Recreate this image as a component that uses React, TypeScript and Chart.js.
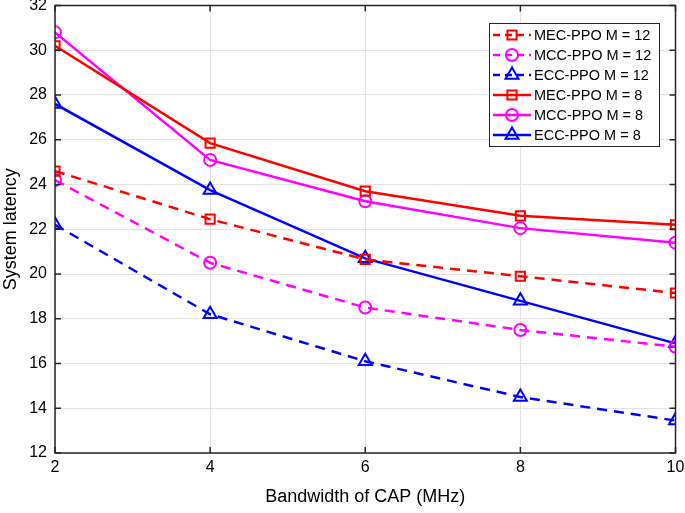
import React, { useEffect, useRef } from "react";
import { Chart, registerables } from "chart.js";
import { drawPoint } from "chart.js/helpers";

Chart.register(...registerables);

const bandwidth = [2, 4, 6, 8, 10];
const mecM12 = [24.6, 22.45, 20.65, 19.9, 19.15];
const mccM12 = [24.2, 20.5, 18.5, 17.5, 16.75];
const eccM12 = [22.2, 18.2, 16.1, 14.5, 13.45];
const mecM8 = [30.2, 25.85, 23.7, 22.6, 22.2];
const mccM8 = [30.8, 25.1, 23.25, 22.05, 21.4];
const eccM8 = [27.6, 23.75, 20.7, 18.8, 16.9];
const seriesLabels = [
  "MEC-PPO M = 12",
  "MCC-PPO M = 12",
  "ECC-PPO M = 12",
  "MEC-PPO M = 8",
  "MCC-PPO M = 8",
  "ECC-PPO M = 8",
];
const yTicks = [12, 14, 16, 18, 20, 22, 24, 26, 28, 30, 32];
const xTicks = [2, 4, 6, 8, 10];

const RED = "#ff0000";
const MAG = "#ff00ff";
const BLUE = "#0000ff";
const FONT = "'Liberation Sans', Arial, Helvetica, sans-serif";
const SHIFT = 4;

const styleFor = [
  { color: RED, style: "rect", radius: 6.5, dash: [10, 7] },
  { color: MAG, style: "circle", radius: 6, dash: [10, 7] },
  { color: BLUE, style: "triangle", radius: 7.5, dash: [10, 7] },
  { color: RED, style: "rect", radius: 6.5, dash: [] },
  { color: MAG, style: "circle", radius: 6, dash: [] },
  { color: BLUE, style: "triangle", radius: 7.5, dash: [] },
];

const boxPlugin = {
  id: "boxPlugin",
  afterDatasetsDraw(chart: any) {
    const { ctx, chartArea } = chart;
    const { left, right, top, bottom } = chartArea;
    ctx.save();
    ctx.strokeStyle = "#262626";
    ctx.lineWidth = 1.5;
    ctx.strokeRect(left, top, right - left, bottom - top);
    const xs = chart.scales.x;
    const ys = chart.scales.y;
    const tl = 6;
    ctx.beginPath();
    xTicks.forEach((v) => {
      const px = xs.getPixelForValue(v);
      ctx.moveTo(px, bottom);
      ctx.lineTo(px, bottom - tl);
      ctx.moveTo(px, top);
      ctx.lineTo(px, top + tl);
    });
    yTicks.forEach((v) => {
      const py = ys.getPixelForValue(v);
      ctx.moveTo(left, py);
      ctx.lineTo(left + tl, py);
      ctx.moveTo(right, py);
      ctx.lineTo(right - tl, py);
    });
    ctx.stroke();

    // legend
    const lx = 489, ly = 23 + SHIFT, lw = 170, lh = 123;
    ctx.fillStyle = "#ffffff";
    ctx.fillRect(lx, ly, lw, lh);
    ctx.strokeStyle = "#262626";
    ctx.lineWidth = 1;
    ctx.strokeRect(lx + 0.5, ly + 0.5, lw, lh);
    ctx.font = `14.5px ${FONT}`;
    ctx.textBaseline = "middle";
    ctx.textAlign = "left";
    seriesLabels.forEach((lab, i) => {
      const s = styleFor[i];
      const y = ly + 12 + i * 20;
      ctx.strokeStyle = s.color;
      ctx.lineWidth = 2.5;
      ctx.setLineDash(s.dash.length ? [7, 5] : []);
      ctx.beginPath();
      ctx.moveTo(lx + 4, y);
      ctx.lineTo(lx + 42, y);
      ctx.stroke();
      ctx.setLineDash([]);
      ctx.fillStyle = "rgba(0,0,0,0)";
      ctx.strokeStyle = s.color;
      ctx.lineWidth = 2;
      drawPoint(ctx, {
        pointStyle: s.style,
        radius: s.radius,
        rotation: 0,
        borderWidth: 2,
      } as any, lx + 23, y);
      ctx.fillStyle = "#000000";
      ctx.fillText(lab, lx + 45, y + 1);
    });
    ctx.restore();
  },
};

export default function App() {
  const ref = useRef<HTMLCanvasElement>(null);
  useEffect(() => {
    const all = [mecM12, mccM12, eccM12, mecM8, mccM8, eccM8];
    const datasets = all.map((arr, i) => {
      const s = styleFor[i];
      return {
        label: seriesLabels[i],
        data: arr.map((v, j) => ({ x: bandwidth[j], y: v })),
        borderColor: s.color,
        backgroundColor: "rgba(0,0,0,0)",
        borderWidth: 2.5,
        borderDash: s.dash,
        pointStyle: s.style,
        pointRadius: s.radius,
        pointBorderWidth: 2,
        pointBorderColor: s.color,
        pointBackgroundColor: "rgba(0,0,0,0)",
        tension: 0,
        fill: false,
      };
    });
    const chart = new Chart(ref.current!, {
      type: "line",
      data: { datasets },
      plugins: [boxPlugin],
      options: {
        responsive: false,
        animation: false,
        layout: { padding: { top: 4, right: 9, bottom: 5, left: 0 } },
        plugins: { legend: { display: false }, tooltip: { enabled: false } },
        scales: {
          x: {
            type: "linear",
            min: 2,
            max: 10,
            afterBuildTicks: (s: any) => {
              s.ticks = xTicks.map((v) => ({ value: v }));
            },
            afterFit: (s: any) => {
              s.height = 55;
              s.paddingLeft = 0;
              s.paddingRight = 0;
            },
            ticks: {
              color: "#000",
              font: { family: FONT, size: 16 },
              padding: 5,
            },
            grid: { color: "#e3e3e3", lineWidth: 1, drawTicks: false },
            border: { display: false },
            title: {
              display: true,
              text: "Bandwidth of CAP (MHz)",
              color: "#000",
              font: { family: FONT, size: 18 },
              padding: { top: 0, bottom: 0 },
            },
          },
          y: {
            type: "linear",
            min: 12,
            max: 32,
            afterBuildTicks: (s: any) => {
              s.ticks = yTicks.map((v) => ({ value: v }));
            },
            afterFit: (s: any) => {
              s.width = 55;
              s.paddingTop = 0;
              s.paddingBottom = 0;
            },
            ticks: {
              color: "#000",
              font: { family: FONT, size: 16 },
              padding: 8,
            },
            grid: { color: "#e3e3e3", lineWidth: 1, drawTicks: false },
            border: { display: false },
            title: {
              display: true,
              text: "System latency",
              color: "#000",
              font: { family: FONT, size: 18 },
              padding: { top: 0, bottom: 0 },
            },
          },
        },
      } as any,
    });
    return () => chart.destroy();
  }, []);
  return (
    <div style={{ position: "fixed", left: 0, top: 0, width: 685, height: 513, background: "#fff", overflow: "hidden" }}>
      <canvas
        ref={ref}
        width={685}
        height={513 + SHIFT}
        style={{ width: 685, height: 513 + SHIFT, display: "block", marginTop: -SHIFT }}
      />
    </div>
  );
}
